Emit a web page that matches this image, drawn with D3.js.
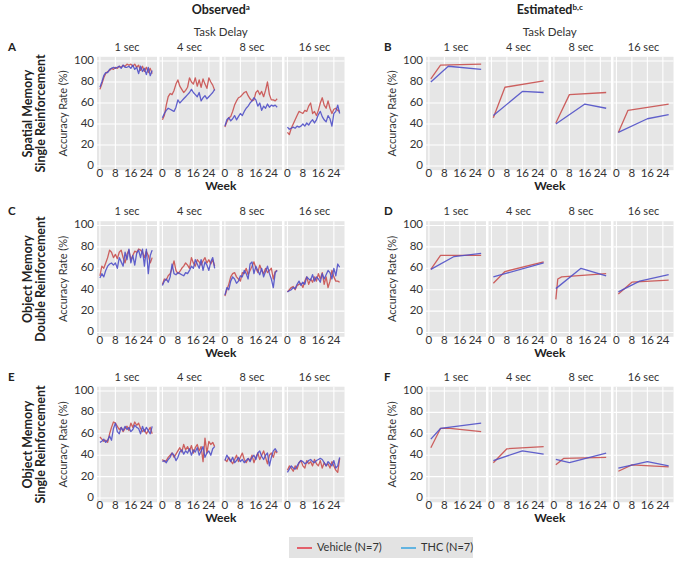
<!DOCTYPE html>
<html><head><meta charset="utf-8">
<script src="https://cdn.jsdelivr.net/npm/d3@7/dist/d3.min.js"></script>
<style>body{margin:0;background:#fff}svg{display:block;font-family:Lato,"Open Sans",sans-serif}</style>
</head><body><svg id="c" width="688" height="563"></svg>
<script>
const delays = ["1 sec","4 sec","8 sec","16 sec"];
const rowTitles = [["Spatial Memory","Single Reinforcement"],["Object Memory","Double Reinforcement"],["Object Memory","Single Reinforcement"]];
const panelLetters = [["A","B"],["C","D"],["E","F"]];
const yTicks = [0,20,40,60,80,100];
const xTicks = [0,8,16,24];
const seriesNames = ["Vehicle (N=7)","THC (N=7)"];
const obsWeeks = [0,1,2,3,4,5,6,7,8,9,10,11,12,13,14,15,16,17,18,19,20,21,22,23,24,25,26,27];

// Observed, row A (Spatial memory, single reinforcement): one array per delay
const obsA_Vehicle = [
 [73,78,84,88,90,91,93,92,94,93,95,94,96,95,97,96,97,95,97,94,96,91,95,90,94,89,93,88],
 [44,48,58,66,69,68,72,78,82,76,73,70,72,75,84,80,78,84,76,82,75,83,78,74,84,80,77,72],
 [37,42,46,47,52,58,62,65,66,68,70,71,67,64,62,63,70,72,68,71,66,72,80,68,63,63,62,64],
 [32,30,36,40,44,48,52,51,50,53,52,57,60,50,52,48,53,60,65,58,55,62,55,50,54,55,53,52]];
const obsA_THC = [
 [75,80,86,89,89,92,93,94,93,94,95,93,96,94,94,95,93,96,92,94,88,95,90,93,87,94,86,91],
 [46,50,53,55,54,53,52,56,63,60,62,64,66,68,70,73,70,68,66,70,62,65,67,64,66,68,70,73],
 [38,44,46,43,45,48,44,47,50,48,52,55,57,60,62,65,63,57,60,53,57,55,59,56,58,57,58,56],
 [37,35,36,37,36,38,37,38,40,38,41,39,42,44,41,44,49,52,47,44,42,48,45,38,50,52,58,50]];
// Observed, row C (Object memory, double reinforcement)
const obsC_Vehicle = [
 [53,62,60,65,70,77,75,70,73,69,75,77,70,65,73,77,68,72,76,75,78,77,75,70,76,72,65,70],
 [45,50,49,53,55,60,67,58,55,57,60,62,65,63,60,70,65,62,68,66,63,67,70,65,68,64,68,62],
 [34,40,45,52,55,56,52,50,48,56,55,60,54,58,62,66,60,56,63,58,55,60,56,58,60,50,57,58],
 [38,40,42,43,40,44,45,46,42,48,52,45,50,47,52,48,55,50,56,45,52,42,48,58,52,48,48,47]];
const obsC_THC = [
 [51,55,52,58,62,64,65,63,65,60,70,66,62,75,68,78,65,72,63,74,77,70,78,62,78,55,72,77],
 [44,48,50,47,52,64,55,54,56,55,54,53,56,55,58,62,60,68,64,60,68,58,66,63,58,66,70,60],
 [35,42,40,48,52,50,46,48,53,52,58,55,50,64,66,55,62,58,54,60,52,57,62,55,50,42,56,58],
 [38,39,40,42,41,45,48,44,47,45,52,50,49,54,48,52,50,47,55,50,54,58,56,50,60,53,64,61]];
// Observed, row E (Object memory, single reinforcement)
const obsE_Vehicle = [
 [57,55,53,54,52,60,66,71,70,67,64,66,62,65,67,63,70,66,71,68,70,65,62,64,60,63,66,60],
 [36,34,35,38,40,42,38,41,44,47,43,50,45,48,44,49,42,47,50,44,48,34,56,42,53,50,52,48],
 [36,34,38,35,32,36,40,34,38,42,36,33,37,35,40,33,38,42,36,40,44,38,32,40,42,38,44,42],
 [26,30,28,25,30,27,33,35,30,28,35,32,34,30,36,32,30,35,28,33,30,32,28,34,30,26,24,37]];
const obsE_THC = [
 [52,53,55,52,54,58,54,65,70,62,60,66,63,67,64,66,62,64,68,66,65,60,67,62,66,63,60,67],
 [34,35,33,36,38,42,40,35,38,43,45,41,44,42,46,40,45,43,47,40,44,48,38,42,44,40,46,48],
 [35,40,37,34,38,33,35,38,34,36,33,35,37,34,38,40,36,42,44,39,36,40,42,30,38,44,46,43],
 [24,27,30,28,27,30,33,35,34,32,33,35,36,34,33,35,36,37,36,33,30,34,32,30,35,28,30,38]];

// Estimated (piecewise linear model fits), [week, value] knots per delay
const estB_Vehicle = [[[1,83],[6,96],[27,97]],[[1,46],[7,75],[27,81]],[[1,41],[8,68],[27,70]],[[1,32],[6,53],[27,59]]];
const estB_THC     = [[[1,80],[10,95],[27,92]],[[1,48],[16,71],[27,70]],[[1,40],[16,59],[27,55]],[[1,32],[16,45],[27,49]]];
const estD_Vehicle = [[[1,59],[6,72],[27,72]],[[1,46],[7,57],[27,66]],[[1,31],[2,50],[4,52],[27,55]],[[1,36],[8,47],[27,49]]];
const estD_THC     = [[[1,59],[13,71],[27,74]],[[1,52],[7,55],[27,65]],[[1,41],[14,60],[27,53]],[[1,38],[12,48],[27,54]]];
const estF_Vehicle = [[[1,47],[6,65],[11,65],[27,62]],[[1,33],[8,46],[27,48]],[[1,31],[5,37],[27,38]],[[1,25],[8,31],[27,29]]];
const estF_THC     = [[[1,55],[6,65],[27,70]],[[1,35],[16,44],[27,41]],[[1,36],[8,33],[27,42]],[[1,28],[16,34],[27,30]]];

const observed = [[obsA_Vehicle,obsA_THC],[obsC_Vehicle,obsC_THC],[obsE_Vehicle,obsE_THC]];
const estimated = [[estB_Vehicle,estB_THC],[estD_Vehicle,estD_THC],[estF_Vehicle,estF_THC]];

const lineColors = ["#c9504f","#5050c8"];
const legendColors = ["#e31a2a","#1c9be0"];

const svg = d3.select("#c");
const colLeft = [97, 426], panelW = 60, panelStep = 62.5;
const rowY100 = [61, 225.5, 391], rowY0 = [166, 332.5, 498];

// Column titles
[["Observed","a",0],["Estimated","b,c",1]].forEach(([t,sup,ci])=>{
  const cx = colLeft[ci] + (3*panelStep+panelW)/2;
  const tx = svg.append("text").attr("x",cx).attr("y",14).attr("text-anchor","middle")
    .attr("font-weight","bold").attr("font-size",12.5).attr("fill","#222");
  tx.append("tspan").text(t);
  tx.append("tspan").attr("font-size",8).attr("dy",-4).attr("font-weight","bold").text(sup);
  svg.append("text").attr("x",cx).attr("y",36).attr("text-anchor","middle")
    .attr("font-size",11.5).attr("fill","#333").text("Task Delay");
});

for (let r=0;r<3;r++){
  const y = d3.scaleLinear().domain([0,100]).range([rowY0[r],rowY100[r]]);
  const ty = (rowY0[r]+rowY100[r])/2;
  rowTitles[r].forEach((t,i)=>{
    svg.append("text").attr("transform",`translate(${29+i*13},${ty}) rotate(-90)`)
      .attr("text-anchor","middle").attr("dominant-baseline","middle")
      .attr("font-weight","bold").attr("font-size",12.5).attr("fill","#222").text(t);
  });
  for (let c=0;c<2;c++){
    const left = colLeft[c];
    svg.append("text").attr("x", c===0?8:384).attr("y", rowY100[r]-13).attr("dominant-baseline","middle")
      .attr("font-weight","bold").attr("font-size",11.5).attr("fill","#222").text(panelLetters[r][c]);
    svg.append("text").attr("transform",`translate(${left-33},${ty}) rotate(-90)`)
      .attr("text-anchor","middle").attr("dominant-baseline","middle")
      .attr("font-size",11).attr("fill","#333").text("Accuracy Rate (%)");
    svg.append("g").selectAll("text").data(yTicks).join("text")
      .attr("x",left-3).attr("y",d=>y(d)).attr("text-anchor","end").attr("dominant-baseline","middle")
      .attr("font-size",11.5).attr("fill","#333").text(d=>d);
    svg.append("text").attr("x",left+(3*panelStep+panelW)/2).attr("y",rowY0[r]+21).attr("text-anchor","middle")
      .attr("dominant-baseline","middle").attr("font-weight","bold").attr("font-size",12).attr("fill","#222").text("Week");
    for (let p=0;p<4;p++){
      const px = left + p*panelStep;
      const x = d3.scaleLinear().domain([-1.5,29.5]).range([px,px+panelW]);
      const g = svg.append("g");
      g.append("rect").attr("x",px).attr("y",y(104)).attr("width",panelW).attr("height",y(-4)-y(104)).attr("fill","#e6e6e6");
      g.selectAll("line.h").data(yTicks).join("line").attr("x1",px).attr("x2",px+panelW)
        .attr("y1",d=>y(d)).attr("y2",d=>y(d)).attr("stroke","#fff").attr("stroke-width",1.1);
      g.selectAll("line.v").data(xTicks).join("line").attr("y1",y(104)).attr("y2",y(-4))
        .attr("x1",d=>x(d)).attr("x2",d=>x(d)).attr("stroke","#fff").attr("stroke-width",1.1);
      g.selectAll("text.xt").data(xTicks).join("text").attr("x",d=>x(d)).attr("y",rowY0[r]+8.5)
        .attr("text-anchor","middle").attr("dominant-baseline","middle").attr("font-size",11.5).attr("fill","#333").text(d=>d);
      g.append("text").attr("x",px+panelW/2).attr("y",rowY100[r]-13).attr("text-anchor","middle")
        .attr("dominant-baseline","middle").attr("font-size",11).attr("fill","#333").text(delays[p]);
      const line = d3.line().x(d=>x(d[0])).y(d=>y(d[1]));
      for (let s=0;s<2;s++){
        let pts;
        if (c===0) pts = obsWeeks.map((w,i)=>[w, observed[r][s][p][i]]);
        else pts = estimated[r][s][p];
        g.append("path").attr("d",line(pts)).attr("fill","none").attr("stroke",lineColors[s])
          .attr("stroke-width",1.3).attr("stroke-opacity",0.9).attr("stroke-linejoin","round");
      }
    }
  }
}

// Legend
const lg = svg.append("g");
lg.append("rect").attr("x",289).attr("y",537).attr("width",184).attr("height",21).attr("fill","#e3e3e3");
const lx = [297, 401];
seriesNames.forEach((n,i)=>{
  lg.append("line").attr("x1",lx[i]).attr("x2",lx[i]+15).attr("y1",548).attr("y2",548)
    .attr("stroke",legendColors[i]).attr("stroke-width",1.3);
  lg.append("text").attr("x",lx[i]+20).attr("y",548).attr("dominant-baseline","middle")
    .attr("font-size",11).attr("fill","#333").text(n);
});
</script></body></html>
